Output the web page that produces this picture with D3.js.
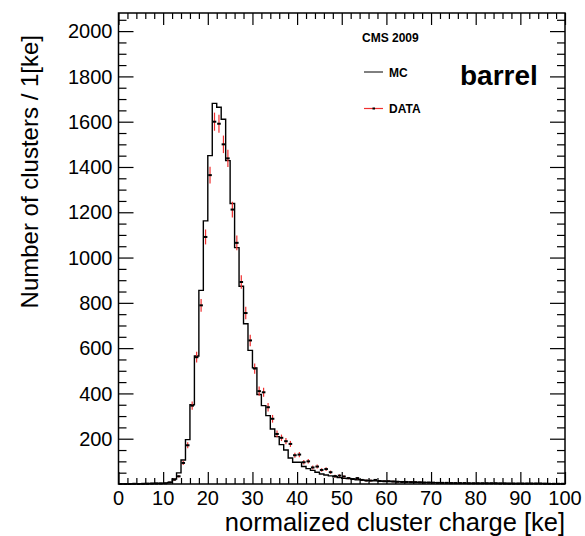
<!DOCTYPE html>
<meta charset="utf-8">
<script src="https://d3js.org/d3.v7.min.js"></script>
<style>
  body { margin: 0; background: #fff; }
  text { font-family: "Liberation Sans", Arial, Helvetica, sans-serif; }
</style>
<body>
<div id="chart"></div>
<script>
// bins of 1 ke from 0 to 100
var binEdges = d3.range(0, 101);

// MC histogram (counts per bin)
var mcCounts = [
  0, 0, 0, 1, 1, 1, 2, 2, 3, 3,
  4, 7, 22, 49, 106, 196, 350, 565, 855, 1162,
  1450, 1681, 1664, 1611, 1428, 1239, 1044, 873, 708, 590,
  513, 395, 346, 302, 243, 209, 174, 150, 115, 96,
  96, 77, 68, 60, 52, 44, 40, 36, 32, 28,
  25, 24, 22, 19, 18, 16, 15, 14, 13, 12,
  12, 11, 10, 10, 9, 9, 8, 8, 7, 7,
  6, 6, 5, 5, 5, 4, 4, 4, 4, 3,
  3, 3, 3, 3, 3, 3, 3, 2, 2, 2,
  2, 2, 2, 2, 2, 2, 1, 1, 1, 1
];

// DATA points (counts per bin)
var dataCounts = [
  0, 0, 0, 1, 0, 1, 1, 2, 2, 2,
  3, 7, 19, 34, 93, 171, 346, 560, 789, 1091,
  1364, 1600, 1591, 1500, 1438, 1212, 1065, 892, 755, 634,
  510, 410, 405, 339, 288, 221, 204, 189, 177, 127,
  130, 96, 100, 73, 77, 62, 66, 52, 35, 37,
  33, 26, 22, 26, 18, 15, 15, 18, 13, 12,
  12, 11, 10, 9, 9, 8, 8, 7, 6, 6,
  6, 5, 5, 5, 4, 4, 4, 4, 3, 3,
  3, 3, 3, 3, 3, 2, 2, 2, 2, 2,
  2, 2, 2, 2, 2, 1, 1, 1, 1, 1
];

var xTicks = [0, 10, 20, 30, 40, 50, 60, 70, 80, 90, 100];
var yTicks = [200, 400, 600, 800, 1000, 1200, 1400, 1600, 1800, 2000];

var W = 585, H = 536;
var margin = {top: 13, right: 20, bottom: 52, left: 118.5};
var width = W - margin.left - margin.right,
    height = H - margin.top - margin.bottom;

var svg = d3.select("#chart").append("svg")
    .attr("width", W)
    .attr("height", H);

var g = svg.append("g")
    .attr("transform", "translate(" + margin.left + "," + margin.top + ")");

var x = d3.scaleLinear().domain([0, 100]).range([0, width]);
var y = d3.scaleLinear().domain([0, 2080]).range([height, 0]);

// ticks (ROOT style, inside the frame, on all four sides)
var xMinor = d3.range(0, 101, 2).filter(function(d) { return d % 10 !== 0; });
var yMinor = d3.range(0, 2081, 50).filter(function(d) { return d % 200 !== 0; });

g.append("g")
    .attr("transform", "translate(0," + height + ")")
    .call(d3.axisTop(x).tickValues(xTicks).tickSize(12).tickFormat(""))
    .call(function(a) { a.select(".domain").remove(); });
g.append("g")
    .attr("transform", "translate(0," + height + ")")
    .call(d3.axisTop(x).tickValues(xMinor).tickSize(6).tickFormat(""))
    .call(function(a) { a.select(".domain").remove(); });
g.append("g")
    .call(d3.axisBottom(x).tickValues(xTicks).tickSize(12).tickFormat(""))
    .call(function(a) { a.select(".domain").remove(); });
g.append("g")
    .call(d3.axisBottom(x).tickValues(xMinor).tickSize(6).tickFormat(""))
    .call(function(a) { a.select(".domain").remove(); });

g.append("g")
    .call(d3.axisRight(y).tickValues(yTicks).tickSize(15).tickFormat(""))
    .call(function(a) { a.select(".domain").remove(); });
g.append("g")
    .call(d3.axisRight(y).tickValues(yMinor).tickSize(8).tickFormat(""))
    .call(function(a) { a.select(".domain").remove(); });
g.append("g")
    .attr("transform", "translate(" + width + ",0)")
    .call(d3.axisLeft(y).tickValues(yTicks).tickSize(15).tickFormat(""))
    .call(function(a) { a.select(".domain").remove(); });
g.append("g")
    .attr("transform", "translate(" + width + ",0)")
    .call(d3.axisLeft(y).tickValues(yMinor).tickSize(8).tickFormat(""))
    .call(function(a) { a.select(".domain").remove(); });

g.selectAll(".tick line").attr("stroke", "#000").attr("stroke-width", 1.2);

// tick labels
g.selectAll(".xlab")
    .data(xTicks)
    .enter().append("text")
    .attr("x", function(d) { return x(d); })
    .attr("y", height + 21)
    .attr("text-anchor", "middle")
    .style("font-size", "20px")
    .text(function(d) { return d; });

g.selectAll(".ylab")
    .data(yTicks)
    .enter().append("text")
    .attr("x", -6)
    .attr("y", function(d) { return y(d); })
    .attr("dy", "0.36em")
    .attr("text-anchor", "end")
    .style("font-size", "20px")
    .text(function(d) { return d; });

// MC histogram as a step line
var mcPts = [];
mcCounts.forEach(function(c, i) {
    mcPts.push([binEdges[i], c]);
    mcPts.push([binEdges[i + 1], c]);
});
g.append("path")
    .datum(mcPts)
    .attr("fill", "none")
    .attr("stroke", "#000")
    .attr("stroke-width", 1.4)
    .attr("d", d3.line()
        .x(function(d) { return x(d[0]); })
        .y(function(d) { return y(d[1]); }));

// DATA points with sqrt(N) errors
var pts = dataCounts.map(function(c, i) { return {x: binEdges[i] + 0.5, v: c}; });
var dots = g.append("g");
dots.selectAll(".err")
    .data(pts.filter(function(d) { return d.v > 0; }))
    .enter().append("line")
    .attr("x1", function(d) { return x(d.x); })
    .attr("x2", function(d) { return x(d.x); })
    .attr("y1", function(d) { return y(d.v + Math.sqrt(d.v)); })
    .attr("y2", function(d) { return y(d.v - Math.sqrt(d.v)); })
    .attr("stroke", "#f03030")
    .attr("stroke-width", 1.2);
dots.selectAll(".mark")
    .data(pts)
    .enter().append("rect")
    .attr("x", function(d) { return x(d.x) - 1.8; })
    .attr("y", function(d) { return y(d.v) - 1; })
    .attr("width", 3.6)
    .attr("height", 2)
    .attr("fill", "#000");

// frame
g.append("rect")
    .attr("width", width)
    .attr("height", height)
    .attr("fill", "none")
    .attr("stroke", "#000")
    .attr("stroke-width", 1.5);

// axis titles
svg.append("text")
    .attr("x", 565)
    .attr("y", 531)
    .attr("text-anchor", "end")
    .style("font-size", "25.5px")
    .text("normalized cluster charge [ke]");

svg.append("text")
    .attr("transform", "translate(38,35)rotate(-90)")
    .attr("text-anchor", "end")
    .style("font-size", "24px")
    .text("Number of clusters / 1[ke]");

// legend
svg.append("text")
    .attr("x", 362).attr("y", 42)
    .style("font-size", "12px").style("font-weight", "bold")
    .text("CMS 2009");
svg.append("line")
    .attr("x1", 364).attr("x2", 383).attr("y1", 72).attr("y2", 72)
    .attr("stroke", "#000").attr("stroke-width", 1);
svg.append("text")
    .attr("x", 389).attr("y", 76.5)
    .style("font-size", "12px").style("font-weight", "bold")
    .text("MC");
svg.append("line")
    .attr("x1", 364).attr("x2", 383).attr("y1", 108.5).attr("y2", 108.5)
    .attr("stroke", "#f03030").attr("stroke-width", 1.2);
svg.append("rect")
    .attr("x", 372.5).attr("y", 107.5).attr("width", 2.5).attr("height", 2)
    .attr("fill", "#000");
svg.append("text")
    .attr("x", 389).attr("y", 113)
    .style("font-size", "12px").style("font-weight", "bold")
    .text("DATA");

svg.append("text")
    .attr("x", 460).attr("y", 85)
    .style("font-size", "28px").style("font-weight", "bold")
    .text("barrel");
</script>
</body>
